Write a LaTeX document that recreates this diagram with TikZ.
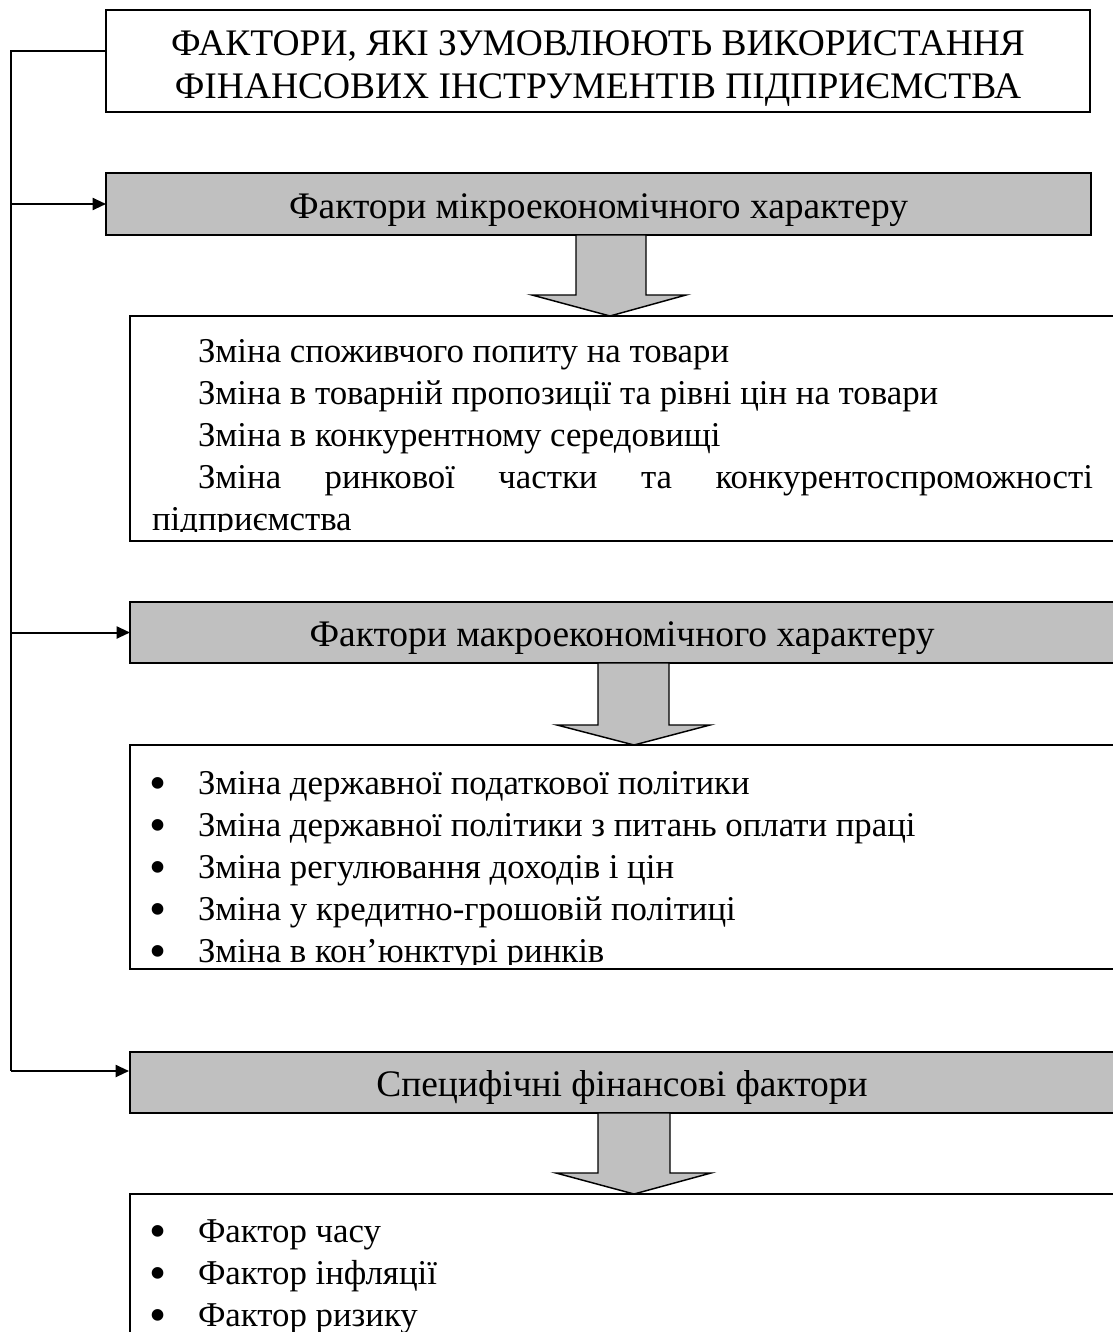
\documentclass[tikz,border=0pt]{standalone}
\usepackage{fontspec}
\setmainfont{Liberation Serif}
\usetikzlibrary{calc,arrows.meta}
\definecolor{boxgray}{RGB}{192,192,192}
\newcommand{\bodyfont}{\fontsize{26.1pt}{31.5pt}\selectfont}
\newcommand{\headfont}{\fontsize{28.1pt}{32.25pt}\selectfont}
\newcommand{\bitem}[1]{\hspace*{13.5pt}\makebox[0pt][c]{\smash{\raisebox{-3.8pt}{\scalebox{1.4}{•}}}}\hspace*{30pt}#1}
\begin{document}
\begin{tikzpicture}[x=0.75pt,y=-0.75pt,
  frame/.style={draw=black,line width=1.5pt,fill=white,inner sep=0pt,outer sep=0pt},
  graybox/.style={frame,fill=boxgray,text height=21pt,text depth=0pt,font=\headfont},
  blockarrow/.style={draw=black,line width=1.1pt,fill=boxgray,line join=miter},
  spine/.style={draw=black,line width=1.5pt},
  feed/.style={spine,-{Triangle[length=10pt,width=9pt]}},
  txt/.style={inner sep=0pt,outer sep=0pt,font=\bodyfont}]
\useasboundingbox (0,0) rectangle (1113,1332);
\fill[white] (0,0) rectangle (1113,1332);

% title
\node[frame,minimum width=738pt,minimum height=76.5pt] (title) at (598,61) {};
\node[txt,align=center,font=\headfont] (titletext) at (598,69) {ФАКТОРИ, ЯКІ ЗУМОВЛЮЮТЬ ВИКОРИСТАННЯ\\ФІНАНСОВИХ ІНСТРУМЕНТІВ ПІДПРИЄМСТВА};

% gray headers
\node[graybox,minimum width=738.75pt,minimum height=46.5pt] (g1) at (598.5,204) {Фактори мікроекономічного характеру};
\node[graybox,minimum width=738pt,minimum height=45.75pt] (g2) at (622,632.5) {Фактори макроекономічного характеру};
\node[graybox,minimum width=738pt,minimum height=45.75pt] (g3) at (622,1082.5) {Специфічні фінансові фактори};

% content boxes
\node[frame,minimum width=738pt,minimum height=168.75pt] (b2) at (622,428.5) {};
\node[frame,minimum width=738pt,minimum height=168pt] (b3) at (622,857) {};
\node[frame,minimum width=738pt,minimum height=109.5pt] (b4) at (622,1267) {};

\begin{scope}
\clip (131,317) rectangle (1113,531);
\node[txt,anchor=base west] (b2text) at (152,362) {\parbox[t]{705.75pt}{\bodyfont
\hspace*{34.5pt}Зміна споживчого попиту на товари\\
\hspace*{34.5pt}Зміна в товарній пропозиції та рівні цін на товари\\
\hspace*{34.5pt}Зміна в конкурентному середовищі\\
\hspace*{34.5pt}Зміна\hfill ринкової\hfill частки\hfill та\hfill конкурентоспроможності\\
підприємства}};
\end{scope}

\begin{scope}
\clip (131,746) rectangle (1113,964.5);
\node[txt,anchor=base west] (b3text) at (140,794) {\parbox[t]{700pt}{\bodyfont
\bitem{Зміна державної податкової політики}\\
\bitem{Зміна державної політики з питань оплати праці}\\
\bitem{Зміна регулювання доходів і цін}\\
\bitem{Зміна у кредитно-грошовій політиці}\\
\bitem{Зміна в кон’юнктурі ринків}}};
\end{scope}

\begin{scope}
\clip (131,1195) rectangle (1113,1332);
\node[txt,anchor=base west] (b4text) at (140,1242) {\parbox[t]{700pt}{\bodyfont
\bitem{Фактор часу}\\
\bitem{Фактор інфляції}\\
\bitem{Фактор ризику}}};
\end{scope}

% block arrows
\draw[blockarrow] (576,235) -- (576,295) -- (532,295) -- (610,316) -- (686,295) -- (646,295) -- (646,235) -- cycle;
\draw[blockarrow] (598,663) -- (598,725) -- (557,725) -- (634,745) -- (710,725) -- (669,725) -- (669,663) -- cycle;
\draw[blockarrow] (598,1113) -- (598,1173) -- (556,1173) -- (634,1194) -- (711,1173) -- (670,1173) -- (670,1113) -- cycle;

% spine connectors
\coordinate (tjoin) at (106,51);
\coordinate (sptop) at (11,51);
\coordinate (spbot) at (11,1071);
\coordinate (g3in) at (129,1071);
\draw[spine] (tjoin) -- (sptop) -- (spbot);
\draw[feed] (spbot) -- (g3in);
\draw[feed] (sptop |- g1.west) -- (g1.west);
\draw[feed] (sptop |- g2.west) -- (g2.west);
\end{tikzpicture}
\end{document}
